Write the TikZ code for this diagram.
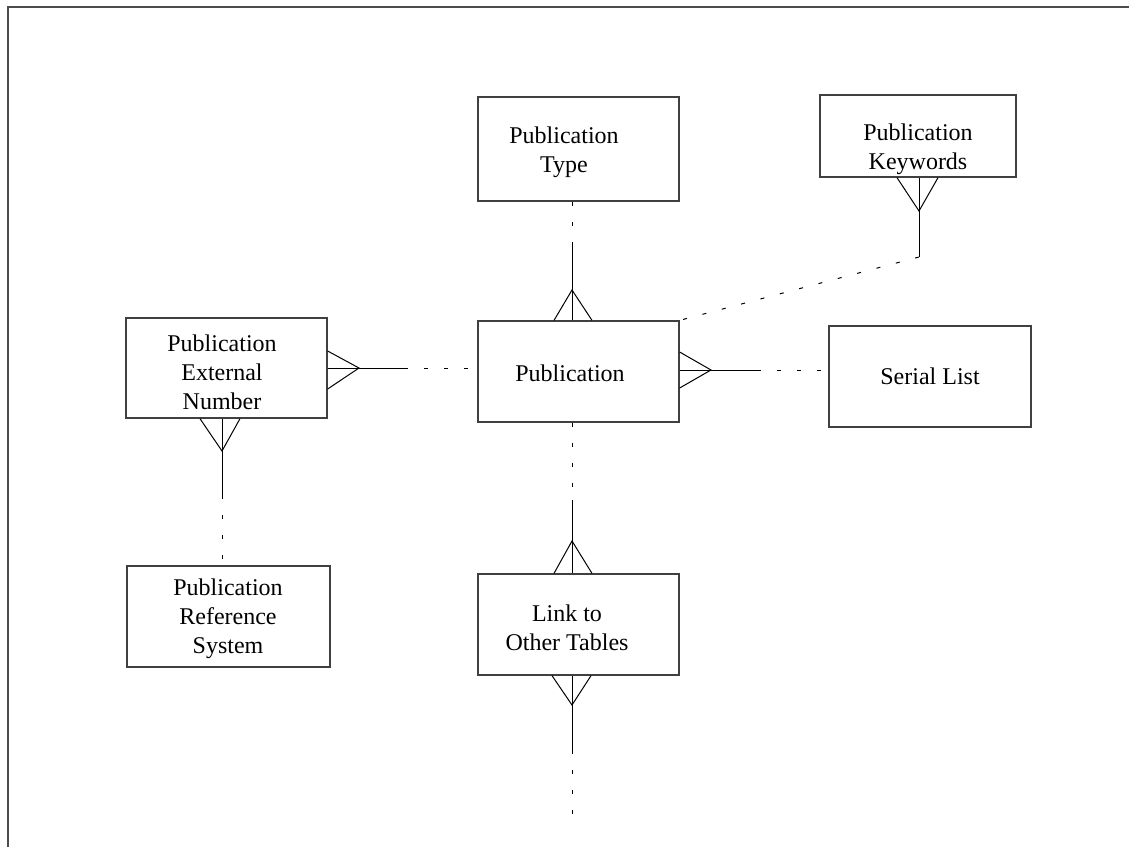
\documentclass[tikz,border=0pt]{standalone}
\usepackage{fontspec}
\setmainfont{Liberation Serif}
\usetikzlibrary{calc}
\begin{document}
\begin{tikzpicture}[x=1pt,y=-1pt,
  entity/.style={draw=black!75, line width=1.3pt, inner sep=0pt},
  etext/.style={align=center, font=\fontsize{24}{29}\selectfont, inner sep=0pt},
  rel/.style={line width=1pt, black},
  reldash/.style={rel, dash pattern=on 4pt off 16pt},
  frame/.style={draw=black!70, line width=2pt}]
\useasboundingbox (0,0) rectangle (1129,847);
\draw[frame] (8,847) -- (8,7) -- (1129,7);

% entity boxes
\node[entity, minimum width=201, minimum height=104] (type) at (578.5,149) {};
\node[entity, minimum width=196, minimum height=82]  (kw)   at (918,136) {};
\node[entity, minimum width=201, minimum height=101] (pub)  at (578.5,371.5) {};
\node[entity, minimum width=202, minimum height=101] (ser)  at (930,376.5) {};
\node[entity, minimum width=201, minimum height=100] (pen)  at (226.5,368) {};
\node[entity, minimum width=203, minimum height=101] (prs)  at (228.5,616.5) {};
\node[entity, minimum width=201, minimum height=101] (link) at (578.5,624.5) {};

% entity names
\node[etext] (typeT) at (564,152) {Publication\\Type};
\node[etext] (kwT)   at (918,149) {Publication\\Keywords};
\node[etext] (pubT)  at (570,373) {Publication};
\node[etext] (serT)  at (930,376) {Serial List};
\node[etext] (penT)  at (222,372) {Publication\\External\\Number};
\node[etext] (prsT)  at (228,619) {Publication\\Reference\\System};
\node[etext] (linkT) at (567,628) {Link to\\Other Tables};

% Publication Type -- Publication
\coordinate (tpS) at (572,245);
\coordinate (tpA) at (572,290);
\draw[reldash] (type.south -| tpS) -- (tpS);
\draw[rel] (tpS) -- (pub.north -| tpS);
\draw[rel] ($(pub.north -| tpA)+(-18,0)$) -- (tpA) -- ($(pub.north -| tpA)+(20,0)$);

% Publication Keywords -- Publication
\coordinate (kwS) at (919,257);
\coordinate (kwA) at (919,211);
\draw[rel] (kw.south -| kwS) -- (kwS);
\draw[rel] ($(kw.south -| kwA)+(-22,0)$) -- (kwA) -- ($(kw.south -| kwA)+(19,0)$);
\draw[reldash] (kwS) -- (pub.north east);

% Publication External Number -- Publication
\coordinate (epS) at (404,368);
\coordinate (epA) at (359,368);
\draw[rel] (pen.east |- epS) -- (epS);
\draw[rel] ($(pen.east |- epA)+(0,-17)$) -- (epA) -- ($(pen.east |- epA)+(0,21)$);
\draw[reldash] (epS) -- (pub.west |- epS);

% Publication -- Serial List
\coordinate (psS) at (757,370);
\coordinate (psA) at (711,370);
\draw[rel] (pub.east |- psS) -- (psS);
\draw[rel] ($(pub.east |- psA)+(0,-18)$) -- (psA) -- ($(pub.east |- psA)+(0,18)$);
\draw[reldash] (psS) -- (ser.west |- psS);

% Publication Reference System -- Publication External Number
\coordinate (rsS) at (222,495);
\coordinate (rsA) at (222,451);
\draw[rel] (pen.south -| rsS) -- (rsS);
\draw[rel] ($(pen.south -| rsA)+(-22,0)$) -- (rsA) -- ($(pen.south -| rsA)+(18,0)$);
\draw[reldash] (rsS) -- (prs.north -| rsS);

% Publication -- Link to Other Tables
\coordinate (plS) at (572,500);
\coordinate (plA) at (572,541);
\draw[reldash] (pub.south -| plS) -- (plS);
\draw[rel] (plS) -- (link.north -| plS);
\draw[rel] ($(link.north -| plA)+(-18,0)$) -- (plA) -- ($(link.north -| plA)+(20,0)$);

% Link to Other Tables -- onward
\coordinate (loS) at (572,750);
\coordinate (loA) at (572,705);
\coordinate (loE) at (572,824);
\draw[rel] (link.south -| loS) -- (loS);
\draw[rel] ($(link.south -| loA)+(-20,0)$) -- (loA) -- ($(link.south -| loA)+(19,0)$);
\draw[reldash] (loS) -- (loE);
\end{tikzpicture}
\end{document}
